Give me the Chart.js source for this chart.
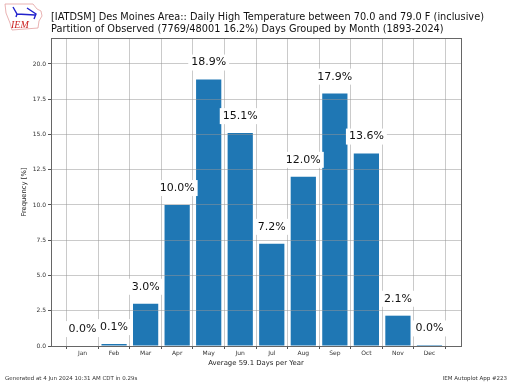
<!DOCTYPE html>
<html lang="en">
<head>
<meta charset="UTF-8">
<title>IEM Autoplot 223</title>
<script src="https://cdn.jsdelivr.net/npm/chart.js"></script>
<style>
    html, body { margin: 0; padding: 0; background: #fff; overflow: hidden; }
    #wrap { position: relative; width: 512px; height: 384px; }
    canvas { display: block; }
    #logo { position: absolute; left: 4px; top: 3px; }
</style>
</head>
<body>
<div id="wrap">
    <canvas id="chart" width="512" height="384"></canvas>
    <svg id="logo" width="40" height="28" viewBox="0 0 40 28">
        <path d="M1 1 L29 1 L33 6 L37 8 L38 13 L35 18 L34 25 L8 27 L6 20 L2 10 Z" fill="#fff" stroke="#e3a0a0" stroke-width="0.8"/>
        <path d="M9 4 L13 11 L31 12 M23 5 L32 11 L30 16 M13 11 L12 14" fill="none" stroke="#2222cc" stroke-width="1.4"/>
        <text x="7" y="25" font-family="Liberation Serif" font-style="italic" font-size="10" fill="#cc2222">IEM</text>
    </svg>
</div>
<script>
const months = ['', 'Jan', 'Feb', 'Mar', 'Apr', 'May', 'Jun', 'Jul', 'Aug', 'Sep', 'Oct', 'Nov', 'Dec', ''];
const frequency = [null, null, 0.14, 3.0, 10.0, 18.9, 15.1, 7.25, 12.0, 17.9, 13.65, 2.15, 0.045, null];
const barLabels = ['', '0.0%', '0.1%', '3.0%', '10.0%', '18.9%', '15.1%', '7.2%', '12.0%', '17.9%', '13.6%', '2.1%', '0.0%', ''];
const yTicks = [0, 2.5, 5, 7.5, 10, 12.5, 15, 17.5, 20];
const titleLines = [
    '[IATDSM] Des Moines Area:: Daily High Temperature between 70.0 and 79.0 F (inclusive)',
    'Partition of Observed (7769/48001 16.2%) Days Grouped by Month (1893-2024)'
];
const xTitle = 'Average 59.1 Days per Year';
const yTitle = 'Frequency [%]';
const footLeft = 'Generated at 4 Jun 2024 10:31 AM CDT in 0.29s';
const footRight = 'IEM Autoplot App #223';

const FONT = '"DejaVu Sans", sans-serif';
const GRID = 'rgba(150, 150, 150, 0.5)';

// value labels sit above the bars on a white box, over the grid
const labelPlugin = {
    id: 'barLabels',
    afterDraw(chart) {
        const ctx = chart.ctx;
        const x = chart.scales.x, y = chart.scales.y;
        ctx.save();
        ctx.font = '11px ' + FONT;
        ctx.textAlign = 'center';
        ctx.textBaseline = 'middle';
        barLabels.forEach((txt, i) => {
            if (!txt) return;
            const px = x.getPixelForValue(i);
            const py = y.getPixelForValue((frequency[i] || 0) + 1.2);
            const w = ctx.measureText(txt).width;
            ctx.fillStyle = '#fff';
            ctx.fillRect(px - w / 2 - 3, py - 8, w + 6, 16);
            ctx.fillStyle = '#111';
            ctx.fillText(txt, px, py);
        });
        ctx.restore();
    }
};

// title and footer text outside the axes
const textPlugin = {
    id: 'pageText',
    afterDraw(chart) {
        const ctx = chart.ctx;
        ctx.save();
        ctx.fillStyle = '#111';
        ctx.textBaseline = 'middle';
        ctx.font = '9.77px ' + FONT;
        ctx.fillText(titleLines[0], 51, 17.5);
        ctx.fillText(titleLines[1], 51, 29);
        ctx.font = '5.5px ' + FONT;
        ctx.fillStyle = '#333';
        ctx.fillText(footLeft, 5, 379);
        ctx.textAlign = 'right';
        ctx.fillText(footRight, 507, 379);
        ctx.restore();
    }
};

new Chart(document.getElementById('chart'), {
    type: 'bar',
    data: {
        labels: months,
        datasets: [{
            data: frequency,
            backgroundColor: '#1f77b4',
            barPercentage: 0.8,
            categoryPercentage: 1,
            minBarLength: 1
        }]
    },
    options: {
        responsive: false,
        animation: false,
        events: [],
        layout: { padding: { left: 20, right: 51, top: 38, bottom: 17 } },
        plugins: { legend: { display: false }, tooltip: { enabled: false }, title: { display: false } },
        scales: {
            x: {
                offset: false,
                afterFit(s) { s.height = 21; },
                grid: { color: GRID, lineWidth: 1, z: 1, tickLength: 3, tickColor: '#555' },
                border: { display: false },
                ticks: { font: { size: 6, family: FONT }, color: '#333', padding: 1, maxRotation: 0, autoSkip: false },
                title: { display: true, text: xTitle, font: { size: 6.9, family: FONT }, color: '#222', padding: 0 }
            },
            y: {
                min: 0,
                max: 21.84,
                afterFit(s) { s.width = 31; },
                afterBuildTicks(s) { s.ticks = yTicks.map(v => ({ value: v })); },
                grid: { color: GRID, lineWidth: 1, z: 1, tickLength: 3, tickColor: '#555' },
                border: { display: false },
                ticks: { font: { size: 6, family: FONT }, color: '#333', padding: 2, callback: v => v.toFixed(1) },
                title: { display: true, text: yTitle, font: { size: 6.8, family: FONT }, color: '#222', padding: 0 }
            }
        }
    },
    plugins: [labelPlugin, textPlugin, {
        // edges of the axes box
        id: 'frame',
        afterDraw(chart) {
            const a = chart.chartArea, ctx = chart.ctx;
            ctx.save();
            ctx.strokeStyle = '#666';
            ctx.lineWidth = 1;
            ctx.strokeRect(Math.round(a.left) + 0.5, Math.round(a.top) + 0.5, a.right - a.left, a.bottom - a.top);
            ctx.restore();
        }
    }]
});
</script>
</body>
</html>
